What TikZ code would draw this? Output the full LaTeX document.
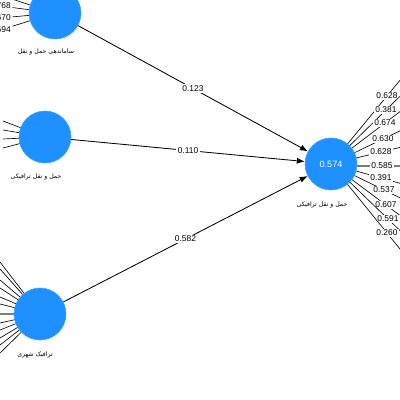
\documentclass[tikz,border=0pt]{standalone}
\usepackage{fontspec}
\setmainfont{Liberation Sans}
\newfontfamily\arabicfont[Script=Arabic]{DejaVu Sans}
\TeXXeTstate=1
\usetikzlibrary{arrows.meta, calc}
\definecolor{latentblue}{RGB}{30,144,255}
\definecolor{loadgray}{RGB}{125,125,125}

\begin{document}
\begin{tikzpicture}[
    x=0.25mm, y=-0.25mm,
    font=\fontsize{6}{7}\selectfont,
    latent/.style={
        circle, fill=latentblue, draw=latentblue!85!white,
        minimum size=13mm, inner sep=0pt, text=white,
        font=\fontsize{6.5}{7}\selectfont
    },
    lvname/.style={font=\arabicfont\fontsize{4.4}{5}\selectfont, inner sep=1pt},
    pathline/.style={-{Latex[length=2mm, width=1.5mm]}, line width=0.6pt},
    loadline/.style={line width=0.45pt},
    strongline/.style={line width=1.5pt, draw=loadgray},
    coef/.style={fill=white, inner sep=1pt},
]
\useasboundingbox (0,0) rectangle (400,400);
\clip (0,0) rectangle (400,400);

% Latent variables
\node[latent] (org) at (55,13) {};
\node[latent] (road) at (45,137) {};
\node[latent] (urban) at (40,314) {};
\node[latent] (traf) at (331,164) {0.574};

\node[lvname] (orgname) at (46,52) {\beginR ساماندهی حمل و نقل\endR};
\node[lvname] (roadname) at (36,177) {\beginR حمل و نقل ترافیکی\endR};
\node[lvname] (urbanname) at (35,355) {\beginR ترافیک شهری\endR};
\node[lvname] (trafname) at (322,205) {\beginR حمل و نقل ترافیکی\endR};

% Outer loadings, left
\coordinate (oind0) at (-10,-8);
\draw[loadline] (org) -- (oind0);
\foreach \i/\ly/\val in {1/6/0.768, 2/18/0.670, 3/30/0.594} {
    \node[coef, anchor=east] (oload\i) at (12.5,\ly) {\val};
    \draw[loadline] (oload\i) -- (org);
}

\foreach \i/\ly in {1/121, 2/130, 3/139, 4/148} {
    \coordinate (rind\i) at (3,\ly);
    \draw[loadline] (road) -- (rind\i);
}

\foreach \i/\ly in {1/262, 2/269, 3/280, 4/288, 5/297, 6/304, 7/323, 8/330, 9/338, 10/345, 11/353} {
    \coordinate (uind\i) at (0,\ly);
    \draw[loadline] (urban) -- (uind\i);
}
\coordinate (uind0) at (0,314);
\draw[strongline] (urban) -- (uind0);

% Outer loadings, right
\foreach \i/\lx/\ly/\val in {1/387/96/0.628, 2/386/110/0.381, 3/385/123/0.674,
        4/383/139/0.630, 5/381/152/0.628, 7/381/178/0.391, 8/384/190/0.537,
        9/386/205/0.607, 10/388/219/0.591, 11/387/233/0.260} {
    \coordinate (m\i) at (\lx,\ly);
    \coordinate (tind\i) at ($(traf)!1.8!(m\i)$);
    \draw[loadline] (traf) -- (tind\i);
    \node[coef] (tload\i) at (m\i) {\val};
}
\coordinate (m6) at (382,166);
\coordinate (tind6) at (420,166);
\draw[strongline] (traf.east |- m6) -- (tind6);
\node[coef] (tload6) at (m6) {0.585};

% Arrows
\draw[pathline] (org) -- (traf) node[midway, coef] {0.123};
\draw[pathline] (road) -- (traf) node[midway, coef] {0.110};
\draw[pathline] (urban) -- (traf) node[midway, coef] {0.582};

\end{tikzpicture}
\end{document}
